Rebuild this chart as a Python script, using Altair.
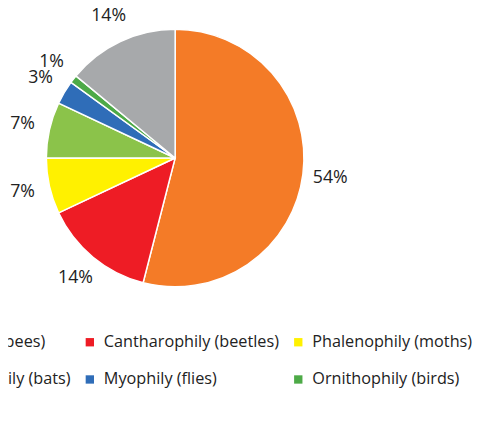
import altair as alt
import pandas as pd

categories = ["Melittophily (bees)", "Cantharophily (beetles)", "Phalenophily (moths)",
              "Chiropterophily (bats)", "Myophily (flies)", "Ornithophily (birds)", "Others"]
values = [54, 14, 7, 7, 3, 1, 14]
labels = ["54%", "14%", "7%", "7%", "3%", "1%", "14%"]
colors = ["#F47B27", "#EE1C25", "#FFF100", "#8BC34A", "#2F6DB8", "#4DAA47", "#A7A9AB"]
# legend entries (filled column by column, two rows)
legend_cats = ["Melittophily (bees)", "Chiropterophily (bats)",
               "Cantharophily (beetles)", "Myophily (flies)",
               "Phalenophily (moths)", "Ornithophily (birds)"]

df = pd.DataFrame({"category": categories, "value": values, "label": labels,
                   "order": list(range(len(categories)))})

base = alt.Chart(df).encode(
    theta=alt.Theta("value:Q", stack=True),
    order=alt.Order("order:Q"),
)

arcs = base.mark_arc(outerRadius=131, stroke="white", strokeWidth=1.5).encode(
    color=alt.Color(
        "category:N",
        scale=alt.Scale(domain=categories, range=colors),
        legend=alt.Legend(
            orient="none", legendX=-126, legendY=328, columns=3, gridAlign="each",
            symbolType="square", symbolSize=72, symbolStrokeWidth=0,
            labelFont="Open Sans", labelFontSize=16.5, labelColor="#222222", labelLimit=0,
            labelOffset=6, columnPadding=11, rowPadding=21, title=None,
            values=legend_cats,
        ),
    )
)

texts = base.mark_text(radius=159, font="Open Sans", fontSize=18, color="#222222").encode(
    text="label:N"
)

chart = (
    alt.layer(arcs, texts)
    .properties(
        width=340, height=298,
        autosize=alt.AutoSizeParams(type="none"),
        padding={"left": 0, "top": 0, "right": 135, "bottom": 121},
    )
    .configure_view(stroke=None)
)

chart.save("out.html", embed_options={"renderer": "svg", "actions": False})
